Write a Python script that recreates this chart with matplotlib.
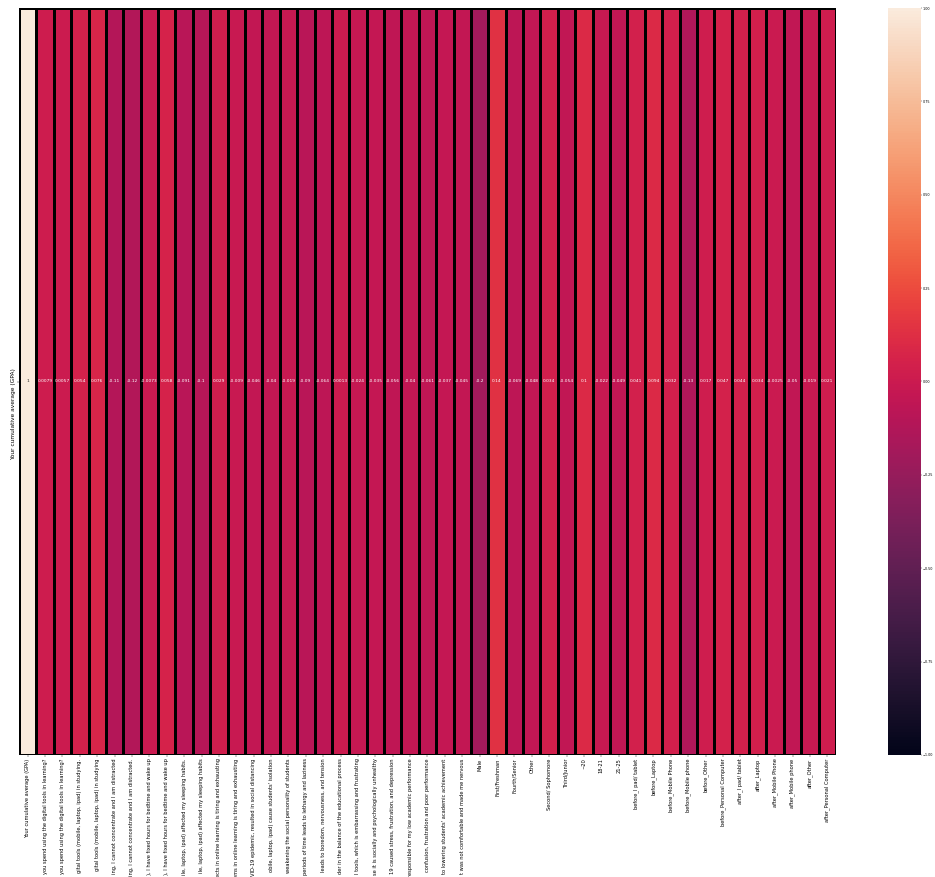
import matplotlib
matplotlib.use("Agg")
import matplotlib.pyplot as plt
import matplotlib.transforms as mtransforms
import seaborn as sns
import pandas as pd

row_label = ["Your cumulative average (GPA)"]

columns = [
    "Your cumulative average (GPA)",
    "you spend using the digital tools in learning?",
    "you spend using the digital tools in learning?",
    "gital tools (mobile, laptop, ipad) in studying.",
    "gital tools (mobile, laptop, ipad) in studying",
    "ing, I cannot concentrate and I am distracted",
    "ing, I cannot concentrate and I am distracted.",
    "), I have fixed hours for bedtime and wake up",
    "), I have fixed hours for bedtime and wake up",
    "ile, laptop, ipad) affected my sleeping habits.",
    "ile, laptop, ipad) affected my sleeping habits",
    "ects in online learning is tiring and exhausting",
    "ems in online learning is tiring and exhausting",
    "VID-19 epidemic, resulted in social distancing",
    "obile, laptop, ipad) cause students' isolation",
    "weakening the social personality of students",
    "periods of time leads to lethargy and laziness",
    "leads to boredom, nervousness, and tension",
    "der in the balance of the educational process",
    "l tools, which is embarrassing and frustrating",
    "se it is socially and psychologically unhealthy",
    "19 caused stress, frustration, and depression",
    "responsible for my low academic performance",
    "confusion, frustration and poor performance",
    "to lowering students' academic achievement",
    "t was not comfortable and made me nervous",
    "Male",
    "First/Freshman",
    "Fourth/Senior",
    "Other",
    "Second/ Sophomore",
    "Third/Junior",
    "~20",
    "18-21",
    "21-25",
    "before_I pad/ tablet",
    "before_Laptop",
    "before_Mobile Phone",
    "before_Mobile phone",
    "before_Other",
    "before_Personal Computer",
    "after_I pad/ tablet",
    "after_Laptop",
    "after_Mobile Phone",
    "after_Mobile phone",
    "after_Other",
    "after_Personal Computer",
]

correlations = [
    1, 0.0079, 0.0057, 0.054, 0.076, -0.11, -0.12, -0.0073, 0.058, -0.091,
    -0.1, 0.029, -0.009, -0.046, -0.04, -0.019, -0.09, -0.064, 0.0013, -0.024,
    -0.035, -0.056, -0.04, -0.061, -0.037, -0.045, -0.2, 0.14, -0.069, -0.048,
    0.034, -0.054, 0.1, -0.022, -0.049, 0.041, 0.094, 0.032, -0.13, 0.017,
    0.047, 0.044, 0.034, -0.0025, -0.05, -0.019, 0.021,
]

corr = pd.DataFrame([correlations], index=row_label, columns=range(len(columns)))

DPI = 35
W, H = 935, 877
fig = plt.figure(figsize=(W / DPI, H / DPI), dpi=DPI)
ax = fig.add_axes([19 / W, 1 - 755 / H, (836 - 19) / W, (755 - 8) / H])
cax = fig.add_axes([888 / W, 1 - 755 / H, 33 / W, (755 - 8) / H])

sns.heatmap(corr, ax=ax, cbar_ax=cax, vmin=-1, vmax=1, annot=True,
            annot_kws={"size": 9}, linewidths=3, linecolor="black")

ax.set_xticks([i + 0.5 for i in range(len(columns))])
ax.set_xticklabels(columns, rotation=90, fontsize=10.6)
ylabels = ax.set_yticklabels(row_label, rotation=90, va="center", fontsize=12)
shift = mtransforms.ScaledTranslation(0, -33 / DPI, fig.dpi_scale_trans)
for t in ylabels:
    t.set_transform(t.get_transform() + shift)

cax.tick_params(labelsize=7, pad=1, length=2.5)

fig.savefig("out.png", dpi=DPI)
